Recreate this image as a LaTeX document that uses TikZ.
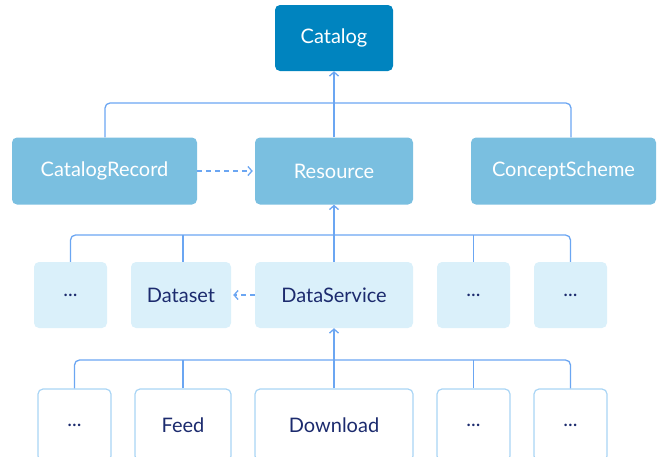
\documentclass[tikz,border=0pt]{standalone}
\usepackage{fontspec}
\setmainfont{Lato}
\usetikzlibrary{arrows.meta}
\definecolor{cdark}{HTML}{0084BF}
\definecolor{cmid}{HTML}{7ABFE0}
\definecolor{clight}{HTML}{DAF0FA}
\definecolor{cborder}{HTML}{A9D5F5}
\definecolor{cline}{HTML}{6BA6F2}
\definecolor{cnavy}{HTML}{1C2B6E}
\tikzset{
  box/.style={rounded corners=5pt, inner sep=0pt, font=\fontsize{20}{24}\selectfont},
  topbox/.style={box, fill=cdark, text=white},
  midbox/.style={box, fill=cmid, text=white},
  lightbox/.style={box, fill=clight, text=cnavy},
  outbox/.style={box, fill=white, draw=cborder, line width=1.2pt, text=cnavy},
  conn/.style={draw=cline, line width=1.3pt, rounded corners=5pt},
  tip/.style={-{Straight Barb[length=4pt,width=9pt,line width=1.3pt]}},
  dashconn/.style={draw=cline, line width=1.3pt, dash pattern=on 5pt off 4pt},
}
\begin{document}
\begin{tikzpicture}[x=1pt,y=-1pt]
\useasboundingbox (0,0) rectangle (660,456);
\clip (0,0) rectangle (660,456);
% row 1
\node[topbox, minimum width=118pt, minimum height=66pt] (cat) at (334,38) {Catalog};
% row 2
\node[midbox, minimum width=185pt, minimum height=67pt] (rec) at (104.5,171) {CatalogRecord};
\node[midbox, minimum width=158pt, minimum height=67pt] (res) at (334,171) {Resource};
\node[midbox, minimum width=185pt, minimum height=67pt] (cs) at (563.5,171) {ConceptScheme};
% row 3
\node[lightbox, minimum width=73pt, minimum height=66pt] (a1) at (70.5,295) {...};
\node[lightbox, minimum width=100pt, minimum height=66pt] (dset) at (181,295) {Dataset};
\node[lightbox, minimum width=158pt, minimum height=66pt] (dsvc) at (334,295) {DataService};
\node[lightbox, minimum width=73pt, minimum height=66pt] (a4) at (473.5,295) {...};
\node[lightbox, minimum width=73pt, minimum height=66pt] (a5) at (570.5,295) {...};
% row 4
\node[outbox, minimum width=73pt, minimum height=72pt] (b1) at (74.5,425) {...};
\node[outbox, minimum width=96pt, minimum height=72pt] (feed) at (183,425) {Feed};
\node[outbox, minimum width=158pt, minimum height=72pt] (dl) at (334,425) {Download};
\node[outbox, minimum width=73pt, minimum height=72pt] (b4) at (473.5,425) {...};
\node[outbox, minimum width=73pt, minimum height=72pt] (b5) at (570.5,425) {...};
% bus coordinates
\coordinate (bus1) at (334,103);
\coordinate (bus2) at (334,235);
\coordinate (bus3) at (334,360);
% level 1-2
\draw[conn] (rec.north -| 105,0) |- (bus1) -| (cs.north -| 571,0);
\draw[conn, tip] (res.north) -- (cat.south);
\draw[dashconn, tip] (rec.east) -- ([xshift=-2pt]res.west);
% level 2-3
\draw[conn] (a1.north) |- (bus2) -| (a5.north);
\draw[conn] (dset.north -| 183,0) -- (bus2 -| 183,0);
\draw[conn] (a4.north) -- (a4.north |- bus2);
\draw[conn, tip] (dsvc.north) -- (res.south);
\draw[dashconn, tip] (dsvc.west) -- ([xshift=2pt]dset.east);
% level 3-4
\draw[conn] (b1.north) |- (bus3) -| (b5.north);
\draw[conn] (feed.north) -- (feed.north |- bus3);
\draw[conn] (b4.north) -- (b4.north |- bus3);
\draw[conn, tip] (dl.north) -- (dsvc.south);
\end{tikzpicture}
\end{document}
